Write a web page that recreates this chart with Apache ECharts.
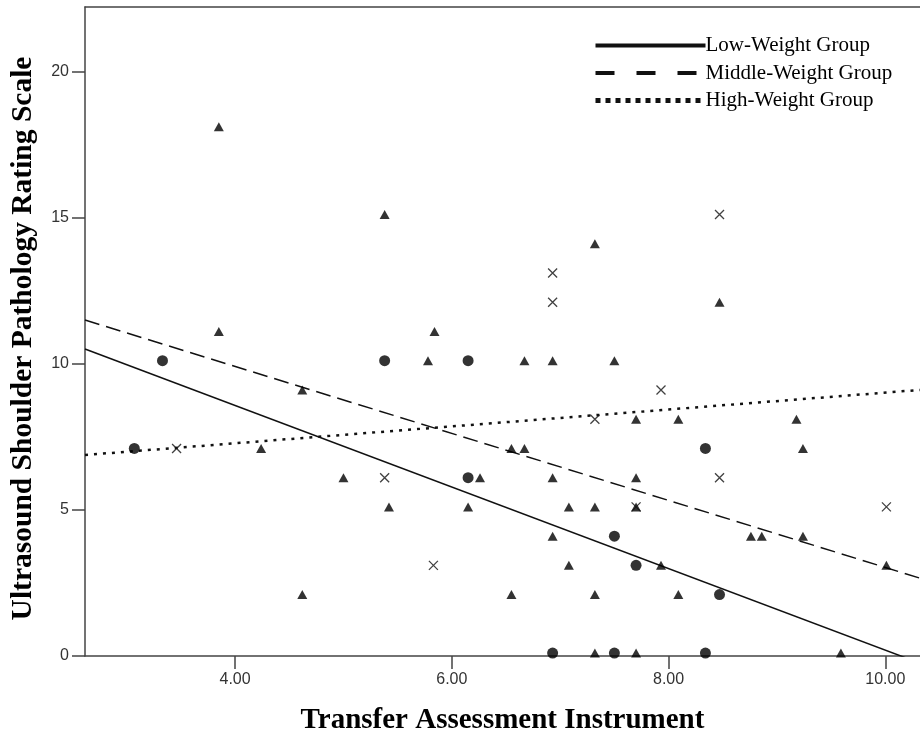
<!DOCTYPE html>
<html>
<head>
<meta charset="utf-8">
<script src="https://cdn.jsdelivr.net/npm/echarts@6/dist/echarts.min.js"></script>
<style>
	html, body { margin: 0; padding: 0; background: #fff; }
	#chart { width: 920px; height: 740px; }
</style>
</head>
<body>
<div id="chart"></div>
<script>
// points, [x, y]
const lowPoints = [
	[3.07, 7.1], [3.33, 10.1], [5.38, 10.1], [6.15, 10.1], [6.15, 6.1], [6.93, 0.1],
	[7.50, 4.1], [7.50, 0.1], [7.70, 3.1], [8.34, 7.1], [8.34, 0.1], [8.47, 2.1]
];
const middlePoints = [
	[3.85, 18.1], [3.85, 11.1], [4.24, 7.1], [4.62, 9.1], [4.62, 2.1], [5.00, 6.1],
	[5.38, 15.1], [5.42, 5.1], [5.78, 10.1], [5.84, 11.1], [6.15, 5.1], [6.26, 6.1],
	[6.55, 7.1], [6.55, 2.1], [6.67, 10.1], [6.67, 7.1], [6.93, 10.1], [6.93, 6.1],
	[6.93, 4.1], [7.08, 5.1], [7.08, 3.1], [7.32, 14.1], [7.32, 5.1], [7.32, 2.1],
	[7.32, 0.1], [7.50, 10.1], [7.70, 8.1], [7.70, 6.1], [7.70, 5.1], [7.70, 0.1],
	[7.93, 3.1], [8.09, 8.1], [8.09, 2.1], [8.47, 12.1], [8.76, 4.1], [8.86, 4.1],
	[9.18, 8.1], [9.24, 7.1], [9.24, 4.1], [9.59, 0.1], [10.01, 3.1]
];
const highPoints = [
	[3.46, 7.1], [5.38, 6.1], [5.83, 3.1], [6.93, 13.1], [6.93, 12.1], [7.32, 8.1],
	[7.70, 5.1], [7.93, 9.1], [8.47, 15.1], [8.47, 6.1], [10.01, 5.1]
];

// fit lines (intercept, slope) for low / middle / high
const groupNames = ['Low-Weight Group', 'Middle-Weight Group', 'High-Weight Group'];
const fitIntercepts = [14.15, 14.49, 6.12];
const fitSlopes = [-1.395, -1.146, 0.289];

const xTicks = [4, 6, 8, 10];
const yTicks = [0, 5, 10, 15, 20];
const xMin = 2.615, xMax = 10.32;
const yMin = 0, yMax = 22.2;

let chart = echarts.init(document.getElementById('chart'));

let fitLine = function(i) {
	return [
		[xMin, fitIntercepts[i] + fitSlopes[i] * xMin],
		[xMax, fitIntercepts[i] + fitSlopes[i] * xMax]
	];
};

const lineTypes = ['solid', [15, 7], [3, 6]];
const lineWidths = [1.5, 1.5, 2.5];
let fitSeries = [];
for (let i = 0; i < 3; i++) {
	fitSeries.push({
		name: groupNames[i],
		type: 'line',
		data: fitLine(i),
		symbol: 'none',
		legendIcon: 'none',
		clip: true,
		silent: true,
		itemStyle: { color: '#111', opacity: 0 },
		lineStyle: { color: '#111', width: lineWidths[i], type: lineTypes[i] },
		z: 2
	});
}

const axisColor = '#444';
const labelFont = { fontFamily: '"Liberation Sans", Arial, sans-serif', fontSize: 16, color: '#333' };
const serifFont = '"Liberation Serif", "Times New Roman", serif';

let option = {
	backgroundColor: '#fff',
	animation: false,
	grid: { left: 81, top: 7, right: 0, bottom: 79, containLabel: false },
	legend: {
		orient: 'vertical',
		left: 588,
		top: 30,
		itemWidth: 110,
		itemHeight: 22,
		itemGap: 6.5,
		selectedMode: false,
		textStyle: { fontFamily: serifFont, fontSize: 21, color: '#000', padding: [0, 0, 0, -5] },
		data: [
			{ name: groupNames[0], lineStyle: { width: 4, type: 'solid', opacity: 1 } },
			{ name: groupNames[1], lineStyle: { width: 4, type: [19, 22], opacity: 1 } },
			{ name: groupNames[2], lineStyle: { width: 5, type: [5, 5], opacity: 1 } }
		]
	},
	xAxis: [{
		type: 'value',
		min: xMin,
		max: xMax,
		name: 'Transfer Assessment Instrument',
		nameLocation: 'middle',
		nameGap: 50,
		nameTextStyle: { fontFamily: serifFont, fontWeight: 'bold', fontSize: 29, color: '#000' },
		splitLine: { show: false },
		axisLine: { show: true, onZero: false, lineStyle: { color: axisColor, width: 1.5 } },
		axisTick: { show: true, length: 13, customValues: xTicks, lineStyle: { color: axisColor, width: 1.5 } },
		axisLabel: Object.assign({ margin: 16, customValues: xTicks, formatter: v => v.toFixed(2) }, labelFont)
	}, {
		type: 'value',
		position: 'top',
		min: xMin,
		max: xMax,
		splitLine: { show: false },
		axisLine: { show: true, onZero: false, lineStyle: { color: axisColor, width: 1.5 } },
		axisTick: { show: false },
		axisLabel: { show: false }
	}],
	yAxis: {
		type: 'value',
		min: yMin,
		max: yMax,
		name: 'Ultrasound Shoulder Pathology Rating Scale',
		nameLocation: 'middle',
		nameGap: 47,
		nameTextStyle: { fontFamily: serifFont, fontWeight: 'bold', fontSize: 29.5, color: '#000', padding: [0, 0, 0, -14] },
		splitLine: { show: false },
		axisLine: { show: true, onZero: false, lineStyle: { color: axisColor, width: 1.5 } },
		axisTick: { show: true, length: 13, customValues: yTicks, lineStyle: { color: axisColor, width: 1.5 } },
		axisLabel: Object.assign({ margin: 16, customValues: yTicks }, labelFont)
	},
	series: fitSeries.concat([
		{
			name: 'low points',
			type: 'scatter',
			data: lowPoints,
			symbol: 'circle',
			symbolSize: 11,
			itemStyle: { color: '#000' },
			z: 3
		},
		{
			name: 'middle points',
			type: 'scatter',
			data: middlePoints,
			symbol: 'triangle',
			symbolSize: [10, 9],
			itemStyle: { color: '#000' },
			z: 3
		},
		{
			name: 'high points',
			type: 'scatter',
			data: highPoints,
			symbol: 'path://M0,0L10,10M0,10L10,0',
			symbolSize: 9,
			itemStyle: { color: 'rgba(0,0,0,0)', borderColor: '#111', borderWidth: 1.3 },
			z: 3
		}
	])
};

chart.setOption(option);
</script>
</body>
</html>
